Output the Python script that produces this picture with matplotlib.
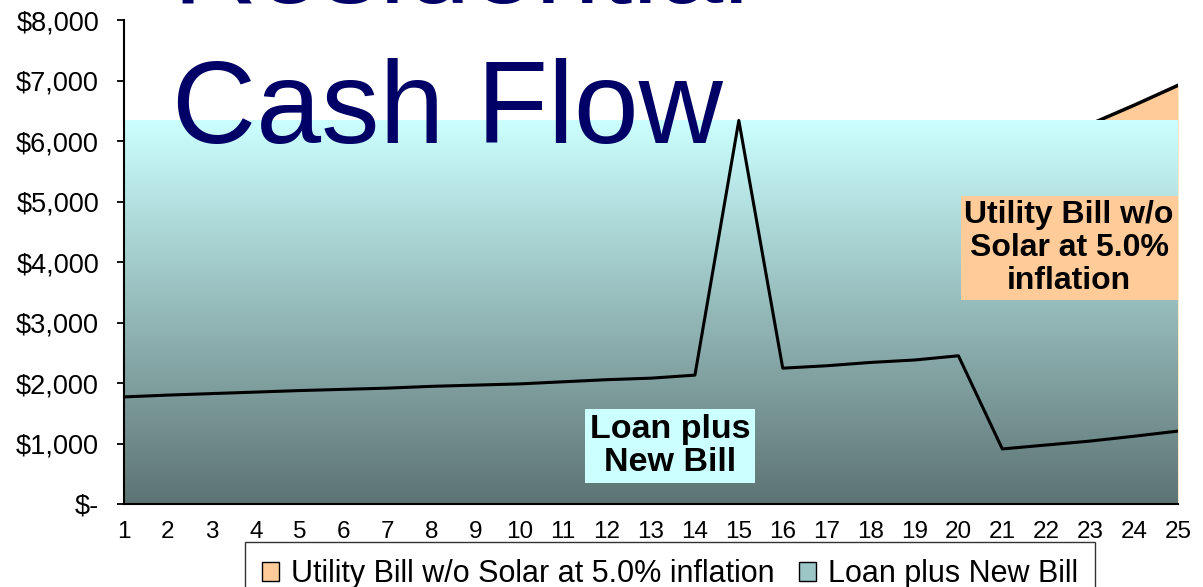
#!/usr/bin/env python3
"""
Residential Cash Flow: utility bill without solar vs. loan plus new bill.
"""

import numpy as np
import matplotlib.pyplot as plt
from matplotlib.patches import Patch

plt.rcParams['font.family'] = ['Liberation Sans', 'DejaVu Sans']

# data
years = list(range(1, 26))
utility_bill = [2146, 2253, 2366, 2484, 2608, 2739, 2876, 3020, 3171, 3329,
                3496, 3670, 3854, 4046, 4249, 4461, 4684, 4918, 5164, 5423,
                5694, 5978, 6277, 6591, 6920]
loan_plus_bill = [1770, 1800, 1825, 1850, 1875, 1895, 1915, 1945, 1965, 1985,
                  2020, 2055, 2080, 2130, 6340, 2245, 2285, 2340, 2380, 2450,
                  910, 975, 1040, 1120, 1205]
y_ticks = [0, 1000, 2000, 3000, 4000, 5000, 6000, 7000, 8000]
y_labels = ['$-', '$1,000', '$2,000', '$3,000', '$4,000', '$5,000',
            '$6,000', '$7,000', '$8,000']
series_names = ['Utility Bill w/o Solar at 5.0% inflation', 'Loan plus New Bill']

peach = '#FFCC99'
cyan = '#CCFFFF'
navy = '#000066'

fig = plt.figure(figsize=(12.03, 5.87), dpi=100)
ax = fig.add_axes([0.1031, 0.1414, 0.8761, 0.8245])

# utility bill area (mostly hidden behind the gradient block)
ax.fill_between(years, 0, utility_bill, color=peach, zorder=1, lw=0)
ax.plot(years, utility_bill, color='black', lw=2.5, zorder=1.5)

# gradient block for the loan series, up to its max value
top = np.array([204, 255, 255]) / 255
bottom = np.array([93, 115, 115]) / 255
t = np.linspace(0, 1, 256)[:, None]
grad = (bottom + (top - bottom) * t)[:, None, :]
ax.imshow(grad, extent=[years[0], years[-1], 0, max(loan_plus_bill)],
          origin='lower', aspect='auto', zorder=2, interpolation='bilinear')
ax.plot(years, loan_plus_bill, color='black', lw=2.2, zorder=3)

ax.set_xlim(years[0], years[-1])
ax.set_ylim(0, 8000)
ax.set_xticks(years)
ax.set_xticklabels([str(y) for y in years])
ax.set_yticks(y_ticks)
ax.set_yticklabels(y_labels)
ax.tick_params(axis='x', length=0, pad=12, labelsize=17.5)
ax.tick_params(axis='y', length=5, width=1.3, pad=13, labelsize=19.5)
for side in ['top', 'right']:
    ax.spines[side].set_visible(False)
for side in ['left', 'bottom']:
    ax.spines[side].set_linewidth(1.5)
    ax.spines[side].set_zorder(4)

# in-chart labels
ax.text(22.52, 4231, 'Utility Bill w/o\nSolar at 5.0%\ninflation', ha='center',
        va='center', fontsize=23, fontweight='bold', linespacing=1.14, zorder=5,
        bbox=dict(boxstyle='square,pad=0.12', facecolor=peach, edgecolor='none'))
ax.text(13.43, 959, 'Loan plus\nNew Bill', ha='center', va='center',
        fontsize=24.5, fontweight='bold', linespacing=1.1, zorder=5,
        bbox=dict(boxstyle='square,pad=0.14', facecolor=cyan, edgecolor='none'))

# big title, top line partly off the canvas
fig.text(0.143, 0.757, 'Cash Flow', fontsize=84, color=navy, va='baseline',
         ha='left')
fig.text(0.143, 0.995, 'Residential', fontsize=84, color=navy, va='baseline',
         ha='left')

handles = [Patch(facecolor=peach, edgecolor='black', lw=1),
           Patch(facecolor='#9CC6C6', edgecolor='black', lw=1)]
leg = fig.legend(handles, series_names, loc='upper center',
                 bbox_to_anchor=(0.557, 0.076), ncol=2, fontsize=22,
                 frameon=True, fancybox=False, handlelength=0.55,
                 handleheight=0.55, handletextpad=0.4, columnspacing=0.8,
                 borderpad=0.55, borderaxespad=0)
leg.get_frame().set_edgecolor('black')
leg.get_frame().set_linewidth(1)

plt.savefig('out.png', dpi=100)
print('saved out.png')
